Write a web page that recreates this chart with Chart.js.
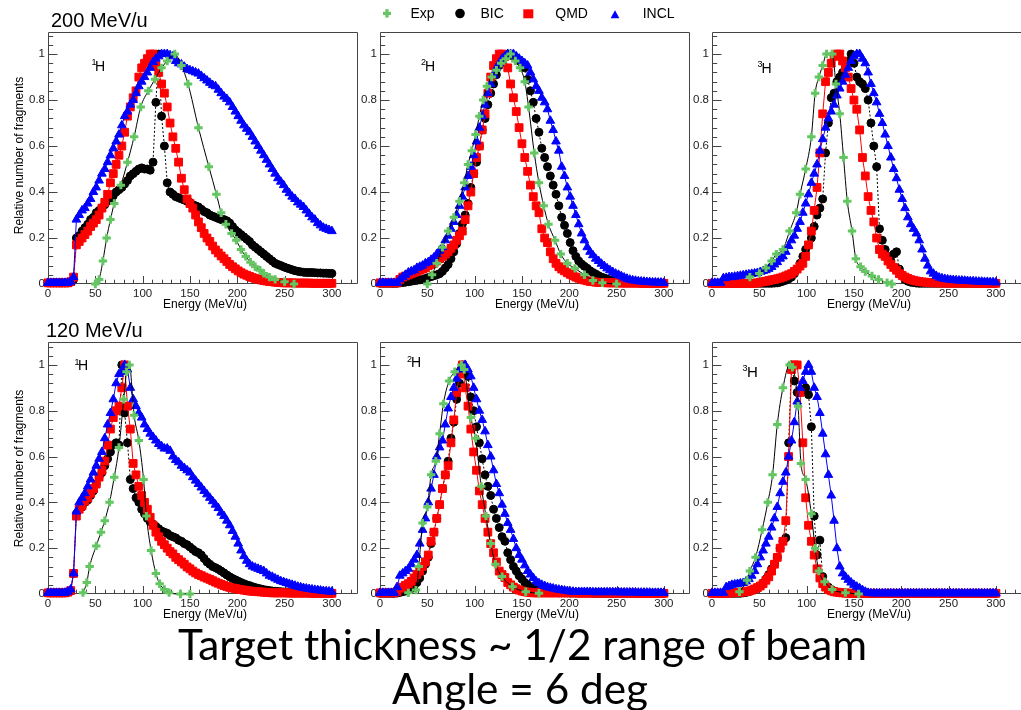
<!DOCTYPE html>
<html>
<head>
<meta charset="utf-8">
<title>Fragment energy spectra</title>
<script src="https://cdn.jsdelivr.net/npm/chart.js@4.4.0/dist/chart.umd.min.js"></script>
<style>
  html, body { margin: 0; padding: 0; background: #fff; }
  #page { position: relative; width: 1021px; height: 710px; overflow: hidden; background: #fff; }
  #page canvas { position: absolute; z-index: 1; }
  #overlay { position: absolute; left: 0; top: 0; z-index: 2; pointer-events: none; font-family: "Liberation Sans", Arial, sans-serif; }
</style>
</head>
<body>
<div id="page">
  <svg id="overlay" width="1021" height="710" xmlns="http://www.w3.org/2000/svg"></svg>
</div>
<script>
// ----------- Data ------------ //

// model histograms share one energy grid (MeV/u)
const energyGrid = [0,3,6,9,12,15,18,21,24,27,30,33,36,39,42,45,48,51,54,57,60,63,66,69,72,75,78,81,84,87,90,93,96,99,102,105,108,111,114,117,120,123,126,129,132,135,138,141,144,147,150,153,156,159,162,165,168,171,174,177,180,183,186,189,192,195,198,201,204,207,210,213,216,219,222,225,228,231,234,237,240,243,246,249,252,255,258,261,264,267,270,273,276,279,282,285,288,291,294,297,300];

const xTickLabels = [0, 50, 100, 150, 200, 250, 300];
const yTickLabels = [0, 0.2, 0.4, 0.6, 0.8, 1];
const seriesNames = ["Exp", "BIC", "QMD", "INCL"];
const beamTitles = ["200 MeV/u", "120 MeV/u"];
const isotopeMass = ["1", "2", "3"];
const axisTitleX = "Energy (MeV/u)";
const axisTitleY = "Relative number of fragments";
const bottomLines = ["Target thickness ~ 1/2 range of beam", "Angle = 6 deg"];

// ---- 200 MeV/u, 1H
const expE_200_H1 = [50,54,58,62,66,70,77,84,91,98,106,113,120,126,134,141,148,159,170,178,183,188,194,199,204,209,214,219,224,228,234,240,250,260];
const expY_200_H1 = [0,0.02,0.1,0.2,0.28,0.35,0.43,0.53,0.64,0.77,0.84,0.89,0.94,0.97,1.0,0.95,0.87,0.68,0.51,0.39,0.31,0.26,0.22,0.19,0.15,0.12,0.095,0.075,0.06,0.046,0.03,0.02,0.01,0];
const bic_200_H1 = [0.005,0.005,0.005,0.005,0.005,0.005,0.005,0.005,0.008,0.02,
  0.2,0.21,0.23,0.245,0.26,0.28,0.29,0.31,0.32,0.33,
  0.345,0.36,0.37,0.385,0.4,0.41,0.42,0.435,0.45,0.47,
  0.48,0.49,0.5,0.505,0.5,0.5,0.495,0.53,0.79,1.0,
  0.73,0.6,0.44,0.4,0.39,0.38,0.375,0.37,0.365,0.36,
  0.355,0.345,0.34,0.335,0.325,0.315,0.31,0.3,0.295,0.29,
  0.285,0.28,0.28,0.275,0.265,0.25,0.235,0.225,0.215,0.205,
  0.195,0.185,0.17,0.16,0.15,0.14,0.13,0.12,0.11,0.1,
  0.09,0.085,0.08,0.075,0.07,0.066,0.062,0.058,0.055,0.053,
  0.051,0.05,0.05,0.05,0.049,0.048,0.048,0.047,0.047,0.046,
  0.046];
const qmd_200_H1 = [0.005,0.005,0.005,0.005,0.005,0.005,0.005,0.005,0.01,0.03,
  0.17,0.185,0.2,0.215,0.23,0.25,0.265,0.28,0.3,0.33,
  0.355,0.39,0.44,0.48,0.52,0.56,0.6,0.66,0.73,0.77,
  0.81,0.84,0.9,0.94,0.96,0.98,1.0,1.0,0.95,0.92,
  0.87,0.83,0.77,0.7,0.64,0.59,0.53,0.46,0.41,0.37,
  0.35,0.33,0.3,0.27,0.245,0.22,0.2,0.185,0.165,0.148,
  0.135,0.122,0.11,0.098,0.085,0.075,0.066,0.057,0.049,0.043,
  0.038,0.033,0.028,0.024,0.021,0.018,0.015,0.013,0.011,0.01,
  0.008,0.007,0.006,0.005,0.005,0.005,0.005,0.004,0.004,0.004,
  0.004,0.004,0.004,0.003,0.003,0.003,0.003,0.003,0.003,0.003,
  0.003];
const incl_200_H1 = [0.005,0.005,0.005,0.005,0.005,0.005,0.005,0.005,0.01,0.03,
  0.28,0.3,0.32,0.33,0.35,0.37,0.4,0.42,0.45,0.48,
  0.5,0.53,0.56,0.59,0.62,0.65,0.69,0.73,0.75,0.78,
  0.8,0.83,0.86,0.88,0.9,0.92,0.94,0.965,0.98,0.99,
  1.0,1.0,1.0,0.995,0.99,0.97,0.96,0.955,0.945,0.935,
  0.93,0.925,0.92,0.915,0.905,0.895,0.885,0.875,0.865,0.86,
  0.845,0.83,0.815,0.805,0.79,0.77,0.75,0.73,0.71,0.69,
  0.675,0.66,0.64,0.62,0.6,0.58,0.56,0.54,0.52,0.5,
  0.48,0.46,0.445,0.43,0.41,0.395,0.38,0.37,0.355,0.345,
  0.335,0.32,0.305,0.29,0.28,0.265,0.255,0.245,0.24,0.235,
  0.23];

// ---- 200 MeV/u, 2H
const expE_200_H2 = [50,55,60,66,72,78,84,89,93,97,101,105,109,113,118,123,128,133,138,143,148,153,157,163,168,173,178,185,191,198,206,216,225,235,250];
const expY_200_H2 = [0,0.04,0.09,0.16,0.23,0.29,0.36,0.44,0.52,0.58,0.65,0.73,0.8,0.86,0.9,0.93,0.96,0.98,1.0,0.97,0.94,0.88,0.77,0.57,0.44,0.34,0.26,0.19,0.13,0.09,0.068,0.04,0.015,0.005,0];
const bic_200_H2 = [0.003,0.003,0.003,0.003,0.003,0.003,0.003,0.005,0.006,0.008,
  0.01,0.012,0.014,0.016,0.018,0.02,0.024,0.028,0.032,0.036,
  0.04,0.045,0.055,0.07,0.085,0.11,0.14,0.175,0.22,0.26,
  0.3,0.35,0.42,0.48,0.53,0.6,0.67,0.72,0.78,0.83,
  0.87,0.91,0.95,0.97,0.99,1.0,1.0,0.99,0.98,0.97,
  0.96,0.94,0.89,0.84,0.79,0.72,0.66,0.59,0.55,0.51,
  0.47,0.43,0.39,0.34,0.29,0.255,0.22,0.18,0.145,0.12,
  0.1,0.087,0.077,0.068,0.058,0.05,0.043,0.036,0.03,0.026,
  0.022,0.018,0.015,0.013,0.011,0.01,0.009,0.008,0.007,0.007,
  0.006,0.006,0.005,0.005,0.005,0.004,0.004,0.004,0.003,0.003,
  0.003];
const qmd_200_H2 = [0.005,0.005,0.005,0.005,0.005,0.005,0.005,0.02,0.03,0.035,
  0.04,0.045,0.05,0.055,0.06,0.065,0.07,0.08,0.085,0.09,
  0.1,0.11,0.12,0.13,0.14,0.155,0.17,0.19,0.21,0.23,
  0.28,0.34,0.4,0.48,0.55,0.6,0.67,0.74,0.83,0.9,
  0.95,0.98,1.0,1.0,0.99,0.94,0.87,0.81,0.75,0.68,
  0.61,0.55,0.49,0.43,0.38,0.34,0.31,0.24,0.2,0.18,
  0.14,0.11,0.09,0.075,0.065,0.057,0.049,0.042,0.036,0.03,
  0.025,0.021,0.017,0.014,0.011,0.01,0.008,0.007,0.006,0.006,
  0.005,0.005,0.005,0.005,0.005,0.004,0.004,0.004,0.004,0.004,
  0.004,0.004,0.003,0.003,0.003,0.003,0.003,0.003,0.003,0.003,
  0.003];
const incl_200_H2 = [0.005,0.005,0.005,0.005,0.005,0.005,0.005,0.02,0.03,0.04,
  0.05,0.055,0.06,0.07,0.075,0.08,0.09,0.095,0.105,0.115,
  0.13,0.145,0.16,0.19,0.21,0.24,0.27,0.3,0.34,0.38,
  0.42,0.47,0.51,0.56,0.62,0.68,0.73,0.78,0.83,0.87,
  0.91,0.94,0.96,0.98,0.99,1.0,1.0,1.0,0.99,0.98,
  0.97,0.96,0.95,0.92,0.89,0.86,0.84,0.81,0.79,0.76,
  0.71,0.67,0.62,0.58,0.51,0.47,0.42,0.38,0.34,0.3,
  0.26,0.22,0.19,0.16,0.14,0.125,0.11,0.1,0.088,0.078,
  0.068,0.06,0.052,0.045,0.04,0.034,0.028,0.023,0.019,0.016,
  0.014,0.012,0.011,0.01,0.009,0.008,0.007,0.007,0.006,0.006,
  0.005];

// ---- 200 MeV/u, 3H
const expE_200_H3 = [40,50,57,63,68,75,82,89,93,99,105,109,113,117,121,127,131,135,139,143,148,152,157,162,169,176,185,190];
const expY_200_H3 = [0.03,0.046,0.07,0.1,0.13,0.15,0.23,0.31,0.39,0.5,0.64,0.83,0.9,0.95,1.0,1.0,0.87,0.74,0.55,0.36,0.23,0.11,0.075,0.054,0.035,0.02,0.006,0];
const bic_200_H3 = [0.003,0.003,0.003,0.003,0.003,0.003,0.003,0.003,0.003,0.003,
  0.003,0.003,0.003,0.003,0.003,0.003,0.003,0.003,0.003,0.003,
  0.003,0.003,0.004,0.005,0.008,0.012,0.016,0.022,0.03,0.045,
  0.065,0.09,0.12,0.15,0.17,0.2,0.25,0.3,0.33,0.37,
  0.57,0.7,0.81,0.83,0.88,0.9,0.92,0.95,0.97,1.0,
  0.96,0.9,0.88,0.87,0.85,0.8,0.7,0.6,0.51,0.24,
  0.19,0.15,0.12,0.1,0.13,0.14,0.065,0.04,0.02,0.012,
  0.008,0.006,0.004,0.003,0.003,0.003,0.003,0.003,0.003,0.003,
  0.003,0.003,0.003,0.003,0.003,0.003,0.003,0.003,0.003,0.003,
  0.003,0.003,0.003,0.003,0.003,0.003,0.003,0.003,0.003,0.003,
  0.003];
const qmd_200_H3 = [0.003,0.003,0.003,0.003,0.003,0.003,0.003,0.003,0.003,0.003,
  0.003,0.003,0.003,0.003,0.003,0.003,0.005,0.008,0.01,0.012,
  0.015,0.018,0.02,0.023,0.026,0.03,0.035,0.04,0.045,0.055,
  0.065,0.078,0.09,0.12,0.17,0.23,0.32,0.42,0.57,0.74,
  0.88,0.92,0.96,0.99,1.0,1.0,0.97,0.94,0.9,0.85,
  0.8,0.76,0.67,0.55,0.47,0.38,0.32,0.27,0.2,0.15,
  0.13,0.12,0.1,0.085,0.072,0.06,0.045,0.037,0.03,0.024,
  0.019,0.016,0.013,0.011,0.009,0.008,0.007,0.006,0.005,0.005,
  0.005,0.005,0.004,0.004,0.004,0.004,0.004,0.004,0.004,0.004,
  0.004,0.004,0.004,0.003,0.003,0.003,0.003,0.003,0.003,0.003,
  0.003];
const incl_200_H3 = [0.005,0.005,0.005,0.005,0.025,0.027,0.03,0.03,0.032,0.034,
  0.036,0.038,0.04,0.042,0.044,0.046,0.048,0.052,0.056,0.06,
  0.066,0.074,0.085,0.095,0.11,0.12,0.14,0.165,0.19,0.21,
  0.24,0.27,0.31,0.35,0.39,0.44,0.48,0.52,0.58,0.63,
  0.68,0.72,0.75,0.78,0.82,0.85,0.88,0.91,0.94,0.97,
  0.99,1.0,1.0,0.98,0.96,0.92,0.87,0.83,0.79,0.74,
  0.7,0.65,0.6,0.55,0.5,0.46,0.41,0.37,0.33,0.29,
  0.26,0.24,0.22,0.19,0.15,0.11,0.08,0.055,0.045,0.035,
  0.028,0.025,0.022,0.02,0.018,0.017,0.016,0.015,0.015,0.014,
  0.013,0.012,0.012,0.011,0.01,0.01,0.009,0.009,0.008,0.008,
  0.007];

// ---- 120 MeV/u, 1H
const expE_120_H1 = [37,41,44,51,56,60,65,70,75,80,83,86,91,96,101,104,109,114,118,123,128,140,150];
const expY_120_H1 = [0.006,0.05,0.12,0.21,0.27,0.32,0.4,0.51,0.64,0.85,0.97,1.0,0.78,0.67,0.5,0.34,0.19,0.09,0.045,0.02,0.006,0,0];
const bic_120_H1 = [0.005,0.005,0.005,0.005,0.005,0.005,0.005,0.008,0.012,0.09,
  0.35,0.37,0.38,0.4,0.41,0.43,0.45,0.48,0.51,0.53,
  0.56,0.59,0.62,0.65,0.66,0.65,1.0,0.79,0.66,0.5,
  0.46,0.42,0.4,0.37,0.35,0.33,0.315,0.305,0.295,0.285,
  0.275,0.27,0.265,0.255,0.25,0.245,0.235,0.23,0.22,0.215,
  0.205,0.195,0.185,0.18,0.17,0.155,0.14,0.13,0.12,0.115,
  0.108,0.1,0.092,0.083,0.075,0.068,0.062,0.056,0.05,0.045,
  0.04,0.036,0.032,0.028,0.025,0.022,0.019,0.017,0.015,0.013,
  0.012,0.011,0.01,0.009,0.009,0.008,0.008,0.007,0.007,0.006,
  0.006,0.006,0.005,0.005,0.005,0.004,0.004,0.004,0.003,0.003,
  0.003];
const qmd_120_H1 = [0.005,0.005,0.005,0.005,0.005,0.005,0.005,0.008,0.015,0.09,
  0.34,0.37,0.385,0.405,0.42,0.44,0.46,0.48,0.51,0.54,
  0.58,0.65,0.72,0.77,0.8,0.82,0.9,1.0,0.82,0.72,
  0.57,0.52,0.47,0.43,0.4,0.37,0.335,0.3,0.27,0.25,
  0.23,0.215,0.2,0.185,0.175,0.16,0.15,0.14,0.13,0.118,
  0.11,0.1,0.092,0.085,0.08,0.074,0.069,0.064,0.058,0.052,
  0.047,0.042,0.037,0.033,0.029,0.026,0.024,0.021,0.019,0.017,
  0.015,0.013,0.012,0.011,0.01,0.009,0.008,0.007,0.006,0.005,
  0.005,0.005,0.005,0.005,0.005,0.004,0.004,0.004,0.004,0.004,
  0.004,0.004,0.004,0.003,0.003,0.003,0.003,0.003,0.003,0.003,
  0.003];
const incl_120_H1 = [0.005,0.005,0.005,0.005,0.005,0.005,0.005,0.01,0.02,0.09,
  0.36,0.4,0.42,0.44,0.47,0.5,0.53,0.56,0.59,0.62,
  0.68,0.74,0.79,0.85,0.92,0.96,0.97,1.0,0.98,0.9,
  0.85,0.82,0.79,0.77,0.74,0.72,0.7,0.685,0.67,0.655,
  0.645,0.635,0.635,0.625,0.6,0.585,0.575,0.56,0.55,0.54,
  0.53,0.51,0.495,0.48,0.465,0.45,0.435,0.42,0.405,0.39,
  0.375,0.355,0.34,0.32,0.3,0.275,0.25,0.22,0.19,0.165,
  0.145,0.13,0.12,0.115,0.11,0.105,0.1,0.09,0.08,0.075,
  0.068,0.062,0.056,0.052,0.048,0.044,0.04,0.036,0.032,0.029,
  0.026,0.024,0.022,0.02,0.018,0.017,0.015,0.013,0.012,0.011,
  0.01];

// ---- 120 MeV/u, 2H
const expE_120_H2 = [30,38,41,45,50,54,59,63,67,73,79,86,89,96,101,107,112,117,122,129,140,154,168];
const expY_120_H2 = [0.005,0.017,0.12,0.31,0.38,0.52,0.58,0.7,0.83,0.93,0.97,1.0,0.98,0.77,0.68,0.47,0.34,0.22,0.13,0.076,0.032,0.01,0.003];
const bic_120_H2 = [0.003,0.003,0.003,0.003,0.003,0.003,0.004,0.007,0.01,0.013,
  0.017,0.025,0.035,0.05,0.07,0.1,0.13,0.16,0.22,0.27,
  0.33,0.39,0.46,0.52,0.58,0.68,0.75,0.85,0.92,1.0,
  0.98,0.95,0.86,0.8,0.73,0.66,0.59,0.52,0.47,0.43,
  0.37,0.33,0.29,0.25,0.23,0.18,0.15,0.12,0.1,0.08,
  0.065,0.05,0.04,0.032,0.025,0.02,0.017,0.014,0.012,0.01,
  0.008,0.007,0.006,0.005,0.005,0.005,0.005,0.004,0.004,0.004,
  0.004,0.004,0.004,0.004,0.004,0.003,0.003,0.003,0.003,0.003,
  0.003,0.003,0.003,0.003,0.003,0.003,0.003,0.003,0.003,0.003,
  0.003,0.003,0.003,0.003,0.003,0.003,0.003,0.003,0.003,0.003,
  0.003];
const qmd_120_H2 = [0.005,0.005,0.005,0.005,0.005,0.005,0.01,0.025,0.03,0.038,
  0.045,0.055,0.07,0.085,0.1,0.12,0.14,0.17,0.23,0.27,
  0.33,0.39,0.46,0.52,0.56,0.66,0.76,0.88,0.96,1.0,
  0.9,0.82,0.72,0.62,0.54,0.45,0.39,0.33,0.27,0.22,
  0.18,0.14,0.1,0.085,0.072,0.05,0.04,0.03,0.023,0.017,
  0.013,0.01,0.008,0.006,0.005,0.005,0.005,0.005,0.005,0.005,
  0.005,0.005,0.005,0.005,0.005,0.005,0.005,0.005,0.005,0.005,
  0.004,0.004,0.004,0.004,0.004,0.004,0.004,0.004,0.004,0.004,
  0.004,0.004,0.004,0.004,0.004,0.004,0.004,0.004,0.004,0.004,
  0.003,0.003,0.003,0.003,0.003,0.003,0.003,0.003,0.003,0.003,
  0.003];
const incl_120_H2 = [0.005,0.005,0.005,0.005,0.005,0.005,0.03,0.08,0.09,0.1,
  0.11,0.13,0.15,0.17,0.22,0.28,0.33,0.4,0.46,0.52,
  0.6,0.64,0.67,0.74,0.81,0.86,0.9,0.94,0.98,0.99,
  1.0,0.98,0.95,0.9,0.85,0.8,0.76,0.71,0.65,0.6,
  0.54,0.48,0.44,0.39,0.35,0.31,0.28,0.24,0.2,0.17,
  0.15,0.125,0.1,0.085,0.07,0.055,0.047,0.04,0.035,0.03,
  0.027,0.024,0.021,0.019,0.017,0.015,0.013,0.011,0.01,0.009,
  0.009,0.009,0.009,0.009,0.009,0.008,0.008,0.008,0.008,0.008,
  0.008,0.008,0.008,0.008,0.008,0.007,0.007,0.007,0.007,0.007,
  0.007,0.006,0.006,0.006,0.006,0.006,0.005,0.005,0.005,0.005,
  0.005];

// ---- 120 MeV/u, 3H
const expE_120_H3 = [29,37,40,46,53,59,64,69,75,82,85,91,94,99,105,109,113,119,127,141,155];
const expY_120_H3 = [0.01,0.06,0.1,0.16,0.28,0.4,0.52,0.74,0.9,1.0,0.99,0.82,0.57,0.5,0.35,0.2,0.1,0.054,0.02,0.006,0];
const bic_120_H3 = [0.003,0.003,0.003,0.003,0.003,0.003,0.003,0.003,0.003,0.003,
  0.003,0.005,0.007,0.01,0.015,0.02,0.027,0.035,0.048,0.065,
  0.085,0.11,0.13,0.16,0.2,0.23,0.245,0.66,1.0,0.93,
  0.88,0.88,0.89,0.9,0.87,0.73,0.34,0.17,0.235,0.076,
  0.04,0.03,0.02,0.012,0.008,0.006,0.005,0.004,0.004,0.003,
  0.003,0.003,0.003,0.003,0.003,0.003,0.003,0.003,0.003,0.003,
  0.003,0.003,0.003,0.003,0.003,0.003,0.003,0.003,0.003,0.003,
  0.003,0.003,0.003,0.003,0.003,0.003,0.003,0.003,0.003,0.003,
  0.003,0.003,0.003,0.003,0.003,0.003,0.003,0.003,0.003,0.003,
  0.003,0.003,0.003,0.003,0.003,0.003,0.003,0.003,0.003,0.003,
  0.003];
const qmd_120_H3 = [0.003,0.003,0.003,0.003,0.003,0.003,0.004,0.005,0.006,0.007,
  0.008,0.009,0.01,0.013,0.017,0.022,0.028,0.035,0.045,0.06,
  0.075,0.1,0.13,0.16,0.2,0.23,0.32,0.6,0.98,1.0,
  1.0,0.88,0.66,0.42,0.3,0.23,0.17,0.11,0.07,0.045,
  0.03,0.02,0.014,0.01,0.008,0.006,0.005,0.004,0.004,0.003,
  0.003,0.003,0.003,0.003,0.003,0.003,0.003,0.003,0.003,0.003,
  0.003,0.003,0.003,0.003,0.003,0.003,0.003,0.003,0.003,0.003,
  0.003,0.003,0.003,0.003,0.003,0.003,0.003,0.003,0.003,0.003,
  0.003,0.003,0.003,0.003,0.003,0.003,0.003,0.003,0.003,0.003,
  0.003,0.003,0.003,0.003,0.003,0.003,0.003,0.003,0.003,0.003,
  0.003];
const incl_120_H3 = [0.005,0.005,0.005,0.005,0.005,0.03,0.035,0.04,0.042,0.044,
  0.046,0.048,0.055,0.065,0.08,0.1,0.13,0.16,0.19,0.22,
  0.25,0.29,0.33,0.38,0.44,0.49,0.53,0.6,0.67,0.75,
  0.84,0.9,0.93,0.97,1.0,0.97,0.9,0.86,0.79,0.7,
  0.61,0.52,0.43,0.32,0.2,0.12,0.09,0.075,0.062,0.05,
  0.04,0.032,0.025,0.017,0.01,0.005,0.003,0.003,0.003,0.003,
  0.003,0.003,0.003,0.003,0.003,0.003,0.003,0.003,0.003,0.003,
  0.003,0.003,0.003,0.003,0.003,0.003,0.003,0.003,0.003,0.003,
  0.003,0.003,0.003,0.003,0.003,0.003,0.003,0.003,0.003,0.003,
  0.003,0.003,0.003,0.003,0.003,0.003,0.003,0.003,0.003,0.003,
  0.003];

// ------------- X ------------------ X ------------------

// panel table: data refs + where each frame sits on the page
const panels = [
  { row: 0, L: 48,  T: 32,  iso: 0, lab: [91.5, 95, 70.7], expE: expE_200_H1, expY: expY_200_H1, bic: bic_200_H1, qmd: qmd_200_H1, incl: incl_200_H1 },
  { row: 0, L: 380, T: 32,  iso: 1, lab: [421, 425, 70.7], expE: expE_200_H2, expY: expY_200_H2, bic: bic_200_H2, qmd: qmd_200_H2, incl: incl_200_H2 },
  { row: 0, L: 712, T: 32,  iso: 2, lab: [757.5, 761.5, 72.7], expE: expE_200_H3, expY: expY_200_H3, bic: bic_200_H3, qmd: qmd_200_H3, incl: incl_200_H3 },
  { row: 1, L: 48,  T: 342, iso: 0, lab: [74.5, 78, 370], expE: expE_120_H1, expY: expY_120_H1, bic: bic_120_H1, qmd: qmd_120_H1, incl: incl_120_H1 },
  { row: 1, L: 380, T: 342, iso: 1, lab: [407, 411, 367], expE: expE_120_H2, expY: expY_120_H2, bic: bic_120_H2, qmd: qmd_120_H2, incl: incl_120_H2 },
  { row: 1, L: 712, T: 342, iso: 2, lab: [742.5, 747, 376.7], expE: expE_120_H3, expY: expY_120_H3, bic: bic_120_H3, qmd: qmd_120_H3, incl: incl_120_H3 }
];
const yMaxByRow = [1.096, 1.1];

const FRAME_W = 311, FRAME_H = 252;
const AXIS_W = 48, AXIS_H = 22, PAD_T = 10, PAD_R = 6;
const X_MAX = 327.4;

const GREEN = "#63c663", RED = "#ff0000", BLUE = "#0000ff", BLACK = "#000000";

Chart.defaults.font.family = '"Liberation Sans", Arial, sans-serif';
Chart.defaults.color = "#222";

function toXY(xs, ys) {
  return xs.map((x, i) => ({ x: x, y: ys[i] }));
}

// ROOT-like frame with inward ticks
const rootFrame = {
  id: "rootFrame",
  beforeDatasetsDraw(chart) {
    const { ctx, chartArea: a, scales } = chart;
    const l = Math.round(a.left) + 0.5, t = Math.round(a.top) + 0.5;
    const r = Math.round(a.right) - 0.5, b = Math.round(a.bottom) - 0.5;
    ctx.save();
    ctx.strokeStyle = "#444";
    ctx.lineWidth = 1;
    ctx.beginPath();
    ctx.moveTo(l, t); ctx.lineTo(r, t); ctx.lineTo(r, b); ctx.lineTo(l, b); ctx.closePath();
    for (let k = 0; k <= 32; k++) {
      const px = Math.round(scales.x.getPixelForValue(k * 10)) + 0.5;
      const len = k % 5 === 0 ? 7.5 : 3.8;
      ctx.moveTo(px, b); ctx.lineTo(px, b - len);
    }
    for (let k = 0; k <= 27; k++) {
      const py = Math.round(scales.y.getPixelForValue(k * 0.04)) + 0.5;
      const len = k % 5 === 0 ? 9 : 4.7;
      ctx.moveTo(l, py); ctx.lineTo(l + len, py);
    }
    ctx.stroke();
    ctx.restore();
  }
};

// ----------- Charts ------------ //

const page = document.getElementById("page");

panels.forEach((p) => {
  const cv = document.createElement("canvas");
  const w = AXIS_W + FRAME_W + PAD_R, h = PAD_T + FRAME_H + AXIS_H;
  cv.width = w; cv.height = h;
  cv.style.width = w + "px"; cv.style.height = h + "px";
  cv.style.left = (p.L - AXIS_W) + "px";
  cv.style.top = (p.T - PAD_T) + "px";
  page.appendChild(cv);

  new Chart(cv, {
    type: "line",
    data: {
      datasets: [
        { label: seriesNames[0], data: toXY(p.expE, p.expY), borderColor: BLACK, borderWidth: 1,
          cubicInterpolationMode: "monotone", pointStyle: "cross", pointRadius: 4.2, pointBorderWidth: 3,
          pointBorderColor: GREEN, pointBackgroundColor: GREEN, clip: false },
        { label: seriesNames[3], data: toXY(energyGrid, p.incl), borderColor: BLUE, borderWidth: 1,
          pointStyle: "triangle", pointRadius: 5, pointBorderWidth: 1,
          pointBorderColor: BLUE, pointBackgroundColor: BLUE, clip: false },
        { label: seriesNames[2], data: toXY(energyGrid, p.qmd), borderColor: RED, borderWidth: 1,
          pointStyle: "rect", pointRadius: 5.5, pointBorderWidth: 1,
          pointBorderColor: RED, pointBackgroundColor: RED, clip: false },
        { label: seriesNames[1], data: toXY(energyGrid, p.bic), borderColor: BLACK, borderWidth: 1,
          borderDash: [2, 2], pointStyle: "circle", pointRadius: 4, pointBorderWidth: 1,
          pointBorderColor: BLACK, pointBackgroundColor: BLACK, clip: false }
      ]
    },
    options: {
      responsive: false,
      animation: false,
      devicePixelRatio: 1,
      events: [],
      layout: { padding: { left: 0, top: PAD_T, right: PAD_R, bottom: 0 } },
      elements: { line: { tension: 0, fill: false } },
      plugins: { legend: { display: false }, tooltip: { enabled: false } },
      scales: {
        x: {
          type: "linear", min: 0, max: X_MAX,
          grid: { display: false, drawTicks: false },
          border: { display: false },
          afterBuildTicks: (s) => { s.ticks = xTickLabels.map((v) => ({ value: v })); },
          afterFit: (s) => { s.height = AXIS_H; },
          ticks: { autoSkip: false, maxRotation: 0, padding: 3, font: { size: 11.5 }, callback: (v) => String(v) }
        },
        y: {
          type: "linear", min: 0, max: yMaxByRow[p.row],
          grid: { display: false, drawTicks: false },
          border: { display: false },
          afterBuildTicks: (s) => { s.ticks = yTickLabels.map((v) => ({ value: v })); },
          afterFit: (s) => { s.width = AXIS_W; },
          ticks: { autoSkip: false, padding: 3, font: { size: 11.5 }, callback: (v) => String(v) }
        }
      }
    },
    plugins: [rootFrame]
  });
});

// ----------- Text overlay ------------ //

const svgNS = "http://www.w3.org/2000/svg";
const overlay = document.getElementById("overlay");

function addText(str, x, y, size, opts) {
  opts = opts || {};
  const t = document.createElementNS(svgNS, "text");
  t.setAttribute("x", x);
  t.setAttribute("y", y);
  t.setAttribute("font-size", size);
  t.setAttribute("fill", opts.fill || "#000");
  if (opts.anchor) t.setAttribute("text-anchor", opts.anchor);
  if (opts.family) t.setAttribute("font-family", opts.family);
  if (opts.transform) t.setAttribute("transform", opts.transform);
  t.textContent = str;
  overlay.appendChild(t);
  return t;
}

function addShape(tag, attrs) {
  const el = document.createElementNS(svgNS, tag);
  Object.keys(attrs).forEach((k) => el.setAttribute(k, attrs[k]));
  overlay.appendChild(el);
  return el;
}

// beam titles
addText(beamTitles[0], 51, 26.7, 20);
addText(beamTitles[1], 46, 336.7, 20);

// legend
addShape("rect", { x: 383, y: 11.8, width: 8, height: 3.2, fill: GREEN });
addShape("rect", { x: 385.4, y: 9.2, width: 3.2, height: 8.4, fill: GREEN });
addText(seriesNames[0], 410.5, 17.5, 14);
addShape("circle", { cx: 460, cy: 13.5, r: 4.8, fill: BLACK });
addText(seriesNames[1], 480.5, 17.5, 14);
addShape("rect", { x: 523.3, y: 9.3, width: 10, height: 9, fill: RED });
addText(seriesNames[2], 555.3, 17.5, 14);
addShape("polygon", { points: "615,10.3 610.6,18.3 619.4,18.3", fill: BLUE });
addText(seriesNames[3], 642.7, 17.5, 14);

// isotope labels and axis titles
panels.forEach((p) => {
  const big = p.iso === 2 && p.row === 1 ? 15 : 14;
  addText(isotopeMass[p.iso], p.lab[0], p.lab[2] - 5.5, 9);
  addText("H", p.lab[1], p.lab[2], big);
  addText(axisTitleX, p.L + 157, p.T + FRAME_H + 24.3, 12, { anchor: "middle" });
});
addText(axisTitleY, 0, 0, 12, { anchor: "middle", transform: "translate(22.5,155.5) rotate(-90)" });
addText(axisTitleY, 0, 0, 12, { anchor: "middle", transform: "translate(22.5,468.5) rotate(-90)" });

// big caption, sized so the first line spans the same width as the picture
const cap1 = addText(bottomLines[0], 522.5, 660, 40, { anchor: "middle", family: "Lato, 'Open Sans', sans-serif" });
const capSize = 40 * 689 / cap1.getComputedTextLength();
cap1.setAttribute("font-size", capSize.toFixed(2));
addText(bottomLines[1], 520, 704, capSize.toFixed(2), { anchor: "middle", family: "Lato, 'Open Sans', sans-serif" });
</script>
</body>
</html>
